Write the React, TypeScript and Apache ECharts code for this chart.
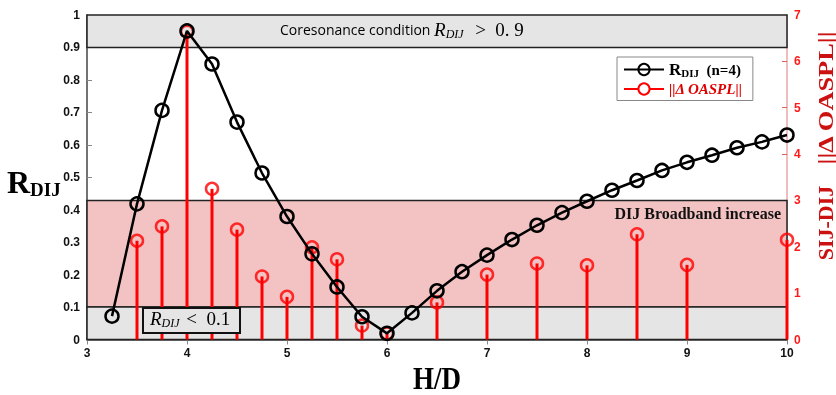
import React, { useEffect, useRef } from "react";
import * as echarts from "echarts";

const hdR = [3.25, 3.5, 3.75, 4, 4.25, 4.5, 4.75, 5, 5.25, 5.5, 5.75, 6, 6.25, 6.5, 6.75, 7, 7.25, 7.5, 7.75, 8, 8.25, 8.5, 8.75, 9, 9.25, 9.5, 9.75, 10];
const rdij = [0.072, 0.418, 0.706, 0.951, 0.849, 0.67, 0.513, 0.379, 0.264, 0.162, 0.07, 0.019, 0.082, 0.15, 0.209, 0.26, 0.308, 0.352, 0.391, 0.426, 0.46, 0.49, 0.521, 0.546, 0.568, 0.591, 0.609, 0.63];

const hdO = [3.5, 3.75, 4, 4.25, 4.5, 4.75, 5, 5.25, 5.5, 5.75, 6, 6.5, 7, 7.5, 8, 8.5, 9, 10];
const oaspl = [2.13, 2.44, 6.64, 3.25, 2.37, 1.36, 0.92, 1.99, 1.73, 0.3, 0.13, 0.8, 1.4, 1.64, 1.6, 2.27, 1.61, 2.15];

const coresonanceMin = 0.9;
const lowMax = 0.1;
const broadbandMax = 3 / 7;

const SERIF = "'Liberation Serif', 'DejaVu Serif', serif";
const SANS = "'Liberation Sans', Arial, sans-serif";

export default function App() {
  const ref = useRef<HTMLDivElement>(null);
  useEffect(() => {
    if (!ref.current) return;
    const chart = echarts.init(ref.current, undefined, { renderer: "svg" });
    const tickLabel = { fontFamily: SANS, fontWeight: "bold", fontSize: 12, color: "#111" };
    chart.setOption({
      animation: false,
      grid: { left: 87, right: 49, top: 15, bottom: 55.5 },
      xAxis: [
        {
          type: "value", min: 3, max: 10, interval: 1,
          axisLine: { show: true, lineStyle: { color: "#444", width: 1.5 } },
          axisTick: { show: true, inside: true, length: 5, lineStyle: { color: "#888" } },
          axisLabel: { ...tickLabel, margin: 7 },
          splitLine: { show: false },
        },
        {
          type: "value", min: 3, max: 10, interval: 1, position: "top",
          axisLine: { show: true, lineStyle: { color: "#888", width: 1 } },
          axisTick: { show: true, inside: true, length: 5, lineStyle: { color: "#888" } },
          axisLabel: { show: false },
          splitLine: { show: false },
        },
      ],
      yAxis: [
        {
          type: "value", min: 0, max: 1, interval: 0.1,
          axisLine: { show: true, lineStyle: { color: "#444", width: 1.5 } },
          axisTick: { show: true, inside: true, length: 5, lineStyle: { color: "#888" } },
          axisLabel: { ...tickLabel, margin: 7, formatter: (v: number) => String(Math.round(v * 10) / 10) },
          splitLine: { show: false },
        },
        {
          type: "value", min: 0, max: 7, interval: 1, position: "right",
          axisLine: { show: true, lineStyle: { color: "#e8a8a8", width: 1.5 } },
          axisTick: { show: true, inside: true, length: 5, lineStyle: { color: "#e06060" } },
          axisLabel: { ...tickLabel, color: "#ff1a1a", margin: 7 },
          splitLine: { show: false },
        },
      ],
      legend: {
        left: 617, top: 57, orient: "vertical",
        backgroundColor: "#fff", borderColor: "#888", borderWidth: 1,
        padding: [4, 10, 4, 6], itemWidth: 40, itemHeight: 14, itemGap: 3,
        data: [
          { name: "rdij" },
          { name: "oaspl" },
        ],
        formatter: (name: string) =>
          name === "rdij" ? "{r|R}{s|DIJ}{n|  (n=4)}" : "{o|||Δ OASPL||}",
        textStyle: {
          rich: {
            r: { fontFamily: SERIF, fontWeight: "bold", fontSize: 17, color: "#000" },
            s: { fontFamily: SERIF, fontWeight: "bold", fontSize: 11, color: "#000", verticalAlign: "bottom", padding: [7, 0, 0, 0] },
            n: { fontFamily: SERIF, fontWeight: "bold", fontSize: 15, color: "#000" },
            o: { fontFamily: SERIF, fontWeight: "bold", fontStyle: "italic", fontSize: 15, color: "#e00000" },
          },
        },
      },
      series: [
        {
          name: "bands", type: "line", data: [], xAxisIndex: 0, yAxisIndex: 0, z: 1,
          markArea: {
            silent: true,
            data: [
              [{ yAxis: coresonanceMin, itemStyle: { color: "#e5e5e5", borderColor: "#222", borderWidth: 1.5 } }, { yAxis: 1 }],
              [{ yAxis: lowMax, itemStyle: { color: "#f3c3c3", borderColor: "#222", borderWidth: 1.5 } }, { yAxis: broadbandMax }],
              [{ yAxis: 0, itemStyle: { color: "#e5e5e5", borderColor: "#222", borderWidth: 1.5 } }, { yAxis: lowMax }],
            ],
          },
        },
        {
          name: "stems", type: "bar", xAxisIndex: 0, yAxisIndex: 1, barWidth: 3, z: 3,
          itemStyle: { color: "#ff0000" },
          data: hdO.map((x, i) => [x, oaspl[i]]),
        },
        {
          name: "oasplTops", type: "scatter", xAxisIndex: 0, yAxisIndex: 1, z: 4,
          symbol: "circle", symbolSize: 12,
          itemStyle: { color: "transparent", borderColor: "#ff0000", borderWidth: 2.5 },
          data: hdO.map((x, i) => [x, oaspl[i]]),
        },
        {
          name: "oaspl", type: "line", xAxisIndex: 0, yAxisIndex: 1, z: 4, data: [],
          lineStyle: { color: "#ff0000", width: 3.5 },
          symbol: "circle", symbolSize: 12,
          itemStyle: { color: "#fff", borderColor: "#ff0000", borderWidth: 3 },
        },
        {
          name: "rdij", type: "line", xAxisIndex: 0, yAxisIndex: 0, z: 5,
          lineStyle: { color: "#000", width: 2.5 },
          symbol: "circle", symbolSize: 13,
          itemStyle: { color: "transparent", borderColor: "#000", borderWidth: 2.5 },
          data: hdR.map((x, i) => [x, rdij[i]]),
        },
      ],
      graphic: [
        {
          type: "text", left: 280, top: 20, z: 10,
          style: {
            text: "{a|Coresonance condition }{b|R}{c|DIJ}{d|  >  0. 9}",
            rich: {
              a: { fontFamily: "'Open Sans', sans-serif", fontSize: 14, fill: "#000" },
              b: { fontFamily: SERIF, fontStyle: "italic", fontSize: 19, fill: "#000" },
              c: { fontFamily: SERIF, fontStyle: "italic", fontSize: 12, fill: "#000", verticalAlign: "bottom", padding: [9, 2, 0, 0] },
              d: { fontFamily: SERIF, fontSize: 19, fill: "#000" },
            },
          },
        },
        {
          type: "rect", z: 10,
          shape: { x: 143, y: 308, width: 97, height: 25 },
          style: { fill: "#e5e5e5", stroke: "#111", lineWidth: 2 },
        },
        {
          type: "text", left: 150, top: 309, z: 11,
          style: {
            text: "{b|R}{c|DIJ}{d| <  0.1}",
            rich: {
              b: { fontFamily: SERIF, fontStyle: "italic", fontSize: 19, fill: "#000" },
              c: { fontFamily: SERIF, fontStyle: "italic", fontSize: 12, fill: "#000", verticalAlign: "bottom", padding: [9, 2, 0, 0] },
              d: { fontFamily: SERIF, fontSize: 19, fill: "#000" },
            },
          },
        },
        {
          type: "text", z: 10, x: 781, y: 213,
          style: {
            text: "DIJ Broadband increase", fontFamily: SERIF, fontWeight: "bold", fontSize: 16,
            fill: "#111", align: "right", verticalAlign: "middle",
          },
        },
        {
          type: "text", z: 10, left: 7, top: 166,
          style: {
            text: "{r|R}{s|DIJ}",
            rich: {
              r: { fontFamily: SERIF, fontWeight: "bold", fontSize: 32, fill: "#000" },
              s: { fontFamily: SERIF, fontWeight: "bold", fontSize: 19, fill: "#000", verticalAlign: "bottom", padding: [14, 0, 0, 0] },
            },
          },
        },
        {
          type: "text", z: 10, x: 437, y: 378, scaleY: 1.15,
          style: {
            text: "H/D", fontFamily: SERIF, fontWeight: "bold", fontSize: 27,
            fill: "#000", align: "center", verticalAlign: "middle",
          },
        },
        {
          type: "text", z: 10, x: 825, y: 223, rotation: Math.PI / 2,
          style: {
            text: "SIJ-DIJ", fontFamily: SERIF, fontWeight: "bold", fontSize: 22,
            fill: "#cc1111", align: "center", verticalAlign: "middle",
          },
        },
        {
          type: "text", z: 10, x: 825, y: 98, rotation: Math.PI / 2, scaleX: 1.2,
          style: {
            text: "||Δ OASPL||", fontFamily: SERIF, fontWeight: "bold", fontSize: 22,
            fill: "#cc1111", align: "center", verticalAlign: "middle",
          },
        },
      ],
    });
    return () => chart.dispose();
  }, []);
  return <div ref={ref} style={{ position: "fixed", left: 0, top: 0, width: 836, height: 395 }} />;
}
